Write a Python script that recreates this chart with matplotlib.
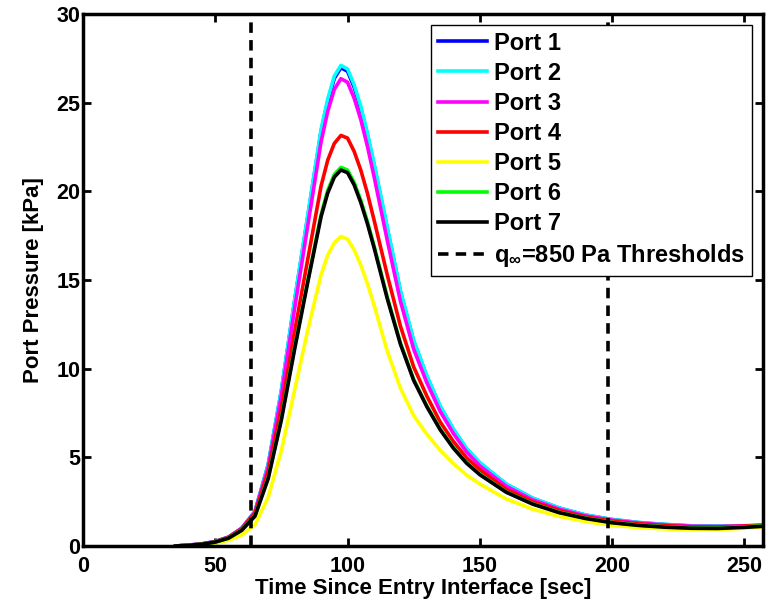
"""Port pressure histories for the seven ports vs time since entry interface."""

import matplotlib

matplotlib.use("Agg")
import matplotlib.pyplot as plt

plt.rcParams["font.family"] = ["Liberation Sans", "DejaVu Sans"]
plt.rcParams["font.weight"] = "bold"
plt.rcParams["mathtext.fontset"] = "custom"
plt.rcParams["mathtext.rm"] = "Liberation Sans:bold"
plt.rcParams["mathtext.it"] = "Liberation Sans:bold"

# time [sec]
t = [35, 40, 45, 50, 55, 60, 65, 70, 75, 80, 85, 90, 92.5, 95, 97.5, 100,
     102.5, 105, 107.5, 110, 112.5, 115, 120, 125, 130, 135, 140, 145, 150,
     160, 170, 180, 190, 200, 210, 220, 230, 240, 250, 257]

# port pressures [kPa]
port1 = [0, 0.05, 0.12, 0.25, 0.5, 1.0, 1.94, 4.58, 8.76, 13.83, 18.6, 23.38,
         25.07, 26.37, 26.97, 26.77, 25.87, 24.68, 23.18, 21.5, 19.7, 17.9,
         14.33, 11.54, 9.55, 7.86, 6.57, 5.47, 4.68, 3.48, 2.69, 2.14, 1.74,
         1.49, 1.32, 1.21, 1.13, 1.11, 1.13, 1.16]
port2 = [0, 0.05, 0.12, 0.25, 0.5, 1.0, 1.95, 4.6, 8.8, 13.9, 18.7, 23.5,
         25.2, 26.5, 27.1, 26.9, 26.0, 24.8, 23.3, 21.6, 19.8, 18.0,
         14.4, 11.6, 9.6, 7.9, 6.6, 5.5, 4.7, 3.5, 2.7, 2.15, 1.75,
         1.5, 1.33, 1.22, 1.14, 1.12, 1.14, 1.17]
port3 = [0, 0.05, 0.12, 0.25, 0.5, 1.0, 1.92, 4.45, 8.5, 13.4, 18.1, 22.8,
         24.5, 25.75, 26.35, 26.15, 25.25, 24.05, 22.55, 20.85, 19.05, 17.25,
         13.8, 11.1, 9.2, 7.6, 6.35, 5.3, 4.52, 3.37, 2.6, 2.08, 1.7,
         1.46, 1.3, 1.19, 1.12, 1.1, 1.14, 1.17]
port4 = [0, 0.05, 0.11, 0.24, 0.48, 0.97, 1.85, 4.2, 7.8, 12.1, 16.2, 20.3,
         21.75, 22.7, 23.15, 23.0, 22.25, 21.2, 19.9, 18.4, 16.85, 15.3,
         12.4, 10.1, 8.45, 7.0, 5.9, 4.97, 4.3, 3.2, 2.5, 2.0, 1.64,
         1.4, 1.25, 1.15, 1.08, 1.07, 1.12, 1.16]
port5 = [0, 0.03, 0.07, 0.15, 0.32, 0.62, 1.2, 2.75, 5.4, 8.8, 12.2, 15.3,
         16.4, 17.1, 17.45, 17.3, 16.7, 15.85, 14.8, 13.6, 12.3, 11.0,
         8.9, 7.35, 6.3, 5.4, 4.65, 4.0, 3.5, 2.65, 2.08, 1.67, 1.38,
         1.17, 1.04, 0.96, 0.92, 0.93, 1.0, 1.08]
port6 = [0, 0.04, 0.1, 0.22, 0.45, 0.9, 1.7, 3.85, 7.2, 11.2, 15.0, 18.7,
         20.05, 20.95, 21.35, 21.2, 20.5, 19.5, 18.3, 16.95, 15.5, 14.05,
         11.45, 9.4, 7.9, 6.6, 5.55, 4.7, 4.05, 3.05, 2.38, 1.9, 1.57,
         1.33, 1.18, 1.08, 1.02, 1.01, 1.08, 1.14]
port7 = [0, 0.04, 0.1, 0.22, 0.44, 0.88, 1.68, 3.8, 7.12, 11.1, 14.9, 18.57,
         19.9, 20.8, 21.2, 21.05, 20.36, 19.37, 18.18, 16.84, 15.4, 13.96,
         11.38, 9.34, 7.85, 6.56, 5.52, 4.67, 4.02, 3.03, 2.36, 1.88, 1.55,
         1.31, 1.16, 1.06, 1.0, 0.99, 1.05, 1.11]

ports = [port1, port2, port3, port4, port5, port6, port7]
labels = ["Port 1", "Port 2", "Port 3", "Port 4", "Port 5", "Port 6", "Port 7"]
colors = ["#0000ff", "#00ffff", "#ff00ff", "#ff0000", "#ffff00", "#00ff00", "#000000"]

thresholds = [63.5, 198.5]  # q_inf = 850 Pa crossings

fig = plt.figure(figsize=(7.76, 6.07), dpi=100)
ax = fig.add_axes([0.107, 0.1005, 0.876, 0.8765])

for p, lab, c in zip(ports, labels, colors):
    ax.plot(t, p, color=c, lw=2.6, label=lab, solid_joinstyle="round")
for i, x in enumerate(thresholds):
    ax.axvline(x, color="black", lw=2.6, ls=(0, (2.9, 2.0)),
               label=r"q$_{\infty}$=850 Pa Thresholds" if i == 0 else None)

ax.set_xlim(0, 257)
ax.set_ylim(0, 30)
ax.set_xticks(range(0, 251, 50))
ax.set_yticks(range(0, 31, 5))
ax.tick_params(direction="in", length=6, width=2, labelsize=15.5,
               top=True, right=True)
ax.tick_params(axis="x", pad=7)
ax.tick_params(axis="y", pad=2)
for s in ax.spines.values():
    s.set_linewidth(2.5)
ax.set_xlabel("Time Since Entry Interface [sec]", fontsize=16, fontweight="bold",
              labelpad=1)
ax.set_ylabel("Port Pressure [kPa]", fontsize=16, fontweight="bold", labelpad=9)

leg = ax.legend(loc="upper right", fontsize=17, handlelength=2.1,
                handletextpad=0.3, labelspacing=0.3, borderaxespad=0.45,
                borderpad=0.3, fancybox=False, framealpha=1)
leg.get_frame().set_edgecolor("black")
leg.get_frame().set_linewidth(1.0)

fig.savefig("out.png", dpi=100)
